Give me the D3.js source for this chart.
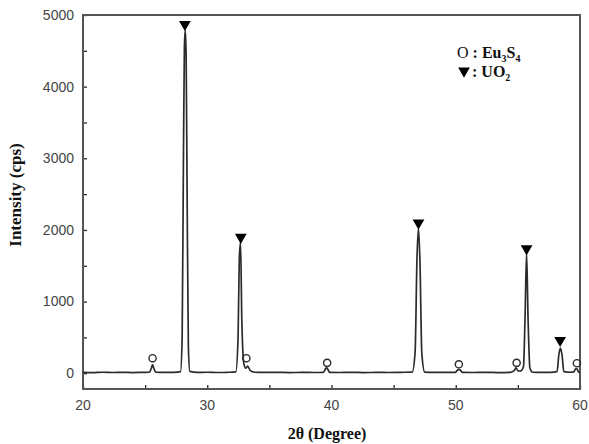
<!DOCTYPE html>
<html>
<head>
<meta charset="utf-8">
<script src="https://cdn.jsdelivr.net/npm/d3@7"></script>
<style>
  body { margin: 0; background: #fff; }
  svg { display: block; }
</style>
</head>
<body>
<div id="chart"></div>
<script>
(function () {
    // trace: 2θ (degree) and intensity (cps)
    const twoTheta = [20.0, 20.8, 21.6, 22.4, 23.2, 24.0, 24.8, 25.35, 25.5, 25.6, 25.7, 25.85, 26.5, 27.3, 27.85,
        27.98, 28.08, 28.16, 28.23, 28.3, 28.38, 28.48, 28.6, 29.2, 30.0, 30.8, 31.6, 32.3, 32.48, 32.58, 32.68, 32.78, 32.95,
        33.1, 33.25, 33.45, 33.8, 34.6, 35.6, 36.6, 37.6, 38.6, 39.35, 39.5, 39.6, 39.7, 39.85, 40.6,
        41.6, 42.6, 43.6, 44.6, 45.6, 46.5, 46.73, 46.88, 47.0, 47.12, 47.27, 47.5, 48.2, 49.2, 49.95,
        50.15, 50.25, 50.35, 50.55, 51.4, 52.4, 53.4, 54.4, 54.7, 54.85, 55.0, 55.2, 55.45, 55.58, 55.7,
        55.82, 55.97, 56.2, 56.8, 57.6, 58.15, 58.3, 58.42, 58.55, 58.7, 59.2, 59.5, 59.65, 59.75, 59.9, 60.0];
    const intensity = [12, 9, 14, 10, 13, 9, 12, 14, 70, 120, 70, 14, 11, 13, 22,
        500, 2900, 4550, 4790, 4450, 2500, 380, 25, 12, 14, 10, 13, 20, 500, 1600, 1830, 760, 130,
        70, 100, 40, 14, 11, 13, 9, 12, 10, 13, 55, 75, 55, 12, 10,
        13, 9, 12, 10, 13, 16, 300, 1600, 2030, 1550, 280, 16, 11, 13, 12,
        45, 55, 45, 12, 10, 13, 9, 12, 35, 75, 35, 30, 90, 800, 1680,
        760, 70, 14, 11, 13, 22, 260, 350, 260, 22, 14, 18, 60, 60, 14, 12];

    // peak labels: Eu3S4 (open circle) and UO2 (filled triangle)
    const eu3s4Theta = [25.6, 33.15, 39.65, 50.25, 54.9, 59.75];
    const eu3s4Level = [210, 210, 145, 125, 145, 140];
    const uo2Theta = [28.2, 32.7, 47.0, 55.7, 58.4];
    const uo2Level = [4870, 1900, 2100, 1740, 460];

    const xTicks = [20, 30, 40, 50, 60];
    const yTicks = [0, 1000, 2000, 3000, 4000, 5000];

    const width = 589, height = 444;
    const left = 83, right = 580, top = 15, bottom = 389;

    const svg = d3.select("#chart").append("svg")
        .attr("width", width)
        .attr("height", height);

    const x = d3.scaleLinear().domain([20, 60]).range([left, right]);
    const y = d3.scaleLinear().domain([-220, 5000]).range([bottom, top]);

    const ink = "#2b2b2b";

    // ticks point inward
    svg.append("g")
        .attr("transform", `translate(0,${bottom})`)
        .call(d3.axisTop(x).tickValues(d3.range(20, 61, 5)).tickSize(4).tickFormat(""))
        .call(g => g.select(".domain").remove())
        .selectAll("line").attr("stroke", ink).attr("stroke-width", 1.3);

    svg.append("g")
        .attr("transform", `translate(${left},0)`)
        .call(d3.axisRight(y).tickValues(d3.range(0, 5001, 500)).tickSize(4).tickFormat(""))
        .call(g => g.select(".domain").remove())
        .selectAll("line").attr("stroke", ink).attr("stroke-width", 1.3);

    // tick labels
    svg.append("g").selectAll("text")
        .data(xTicks).enter().append("text")
        .attr("x", d => x(d))
        .attr("y", 410)
        .attr("text-anchor", "middle")
        .style("font-family", "'Liberation Sans', Arial, sans-serif")
        .style("font-size", "14px")
        .style("fill", "#444")
        .text(d => d);

    svg.append("g").selectAll("text")
        .data(yTicks).enter().append("text")
        .attr("x", 74)
        .attr("y", d => y(d))
        .attr("dy", "0.35em")
        .attr("text-anchor", "end")
        .style("font-family", "'Liberation Sans', Arial, sans-serif")
        .style("font-size", "14px")
        .style("fill", "#444")
        .text(d => d);

    // frame
    svg.append("rect")
        .attr("x", left).attr("y", top)
        .attr("width", right - left).attr("height", bottom - top)
        .attr("fill", "none")
        .attr("stroke", "#555")
        .attr("stroke-width", 2);

    // pattern
    const pts = twoTheta.map((t, i) => [t, intensity[i]]);
    svg.append("path")
        .datum(pts)
        .attr("fill", "none")
        .attr("stroke", ink)
        .attr("stroke-width", 1.7)
        .attr("stroke-linejoin", "round")
        .attr("d", d3.line().x(d => x(d[0])).y(d => y(d[1])).curve(d3.curveMonotoneX));

    // markers
    svg.append("g").selectAll("circle")
        .data(eu3s4Theta).enter().append("circle")
        .attr("cx", d => x(d))
        .attr("cy", (d, i) => y(eu3s4Level[i]))
        .attr("r", 3.6)
        .attr("fill", "none")
        .attr("stroke", ink)
        .attr("stroke-width", 1.4);

    const tri = d3.symbol().type(d3.symbolTriangle).size(60);
    svg.append("g").selectAll("path")
        .data(uo2Theta).enter().append("path")
        .attr("transform", (d, i) => `translate(${x(d)},${y(uo2Level[i])}) rotate(180)`)
        .attr("d", tri)
        .attr("fill", "#000");

    // legend
    const serif = "'Liberation Serif', 'Times New Roman', serif";
    const leg = svg.append("g").style("font-family", serif).style("font-weight", "bold").style("fill", "#111");
    const row1 = leg.append("text").attr("x", 457).attr("y", 58).style("font-size", "16px");
    row1.append("tspan").style("font-weight", "normal").text("O");
    row1.append("tspan").text(" : Eu");
    row1.append("tspan").attr("dy", 4).style("font-size", "10px").text("3");
    row1.append("tspan").attr("dy", -4).text("S");
    row1.append("tspan").attr("dy", 4).style("font-size", "10px").text("4");

    leg.append("path")
        .attr("transform", "translate(464,71) rotate(180)")
        .attr("d", tri)
        .attr("fill", "#000");
    const row2 = leg.append("text").attr("x", 472).attr("y", 77).style("font-size", "16px");
    row2.append("tspan").text(": UO");
    row2.append("tspan").attr("dy", 4).style("font-size", "10px").text("2");

    // axis titles
    svg.append("text")
        .attr("x", 327)
        .attr("y", 439)
        .attr("text-anchor", "middle")
        .style("font-family", serif)
        .style("font-weight", "bold")
        .style("font-size", "16px")
        .style("fill", "#111")
        .text("2θ (Degree)");

    svg.append("text")
        .attr("transform", "translate(21,195) rotate(-90)")
        .attr("text-anchor", "middle")
        .style("font-family", serif)
        .style("font-weight", "bold")
        .style("font-size", "17px")
        .style("fill", "#111")
        .text("Intensity (cps)");
})();
</script>
</body>
</html>
